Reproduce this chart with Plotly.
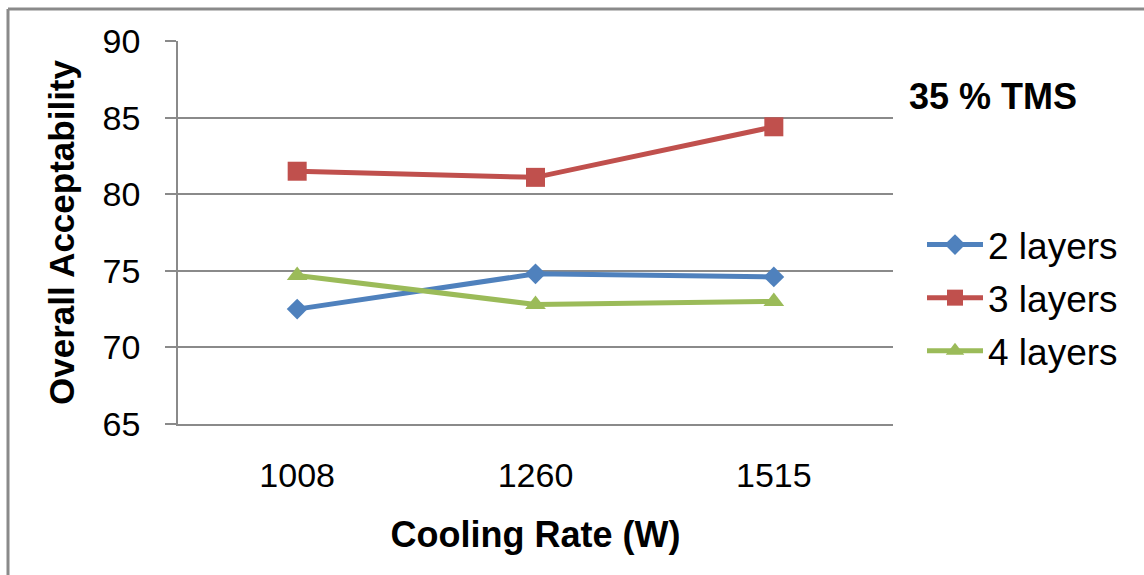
import plotly.graph_objects as go

categories = ["1008", "1260", "1515"]
layers2 = [72.5, 74.8, 74.6]
layers3 = [81.5, 81.1, 84.4]
layers4 = [74.7, 72.8, 73.0]
series_names = ["2 layers", "3 layers", "4 layers"]
y_ticks = [65, 70, 75, 80, 85, 90]

FONT = "Liberation Sans, Arial, sans-serif"
colors = ["#4F81BD", "#C0504D", "#9BBB59"]
symbols = ["diamond", "square", "triangle-up"]
sizes = [16, 19, 18]

fig = go.Figure()
for name, vals, c, s, sz in zip(series_names, [layers2, layers3, layers4], colors, symbols, sizes):
    fig.add_trace(go.Scatter(
        x=categories, y=vals, name=name, mode="lines+markers",
        line=dict(color=c, width=5),
        marker=dict(symbol=s, size=sz, color=c),
        legendgroup=name,
    ))

L, R, T, B = 178, 893, 41, 424
W, H = 1144, 575

def px(x):
    return (x - L) / (R - L)

def py(y):
    return (B - y) / (B - T)

fig.update_layout(
    width=W, height=H,
    margin=dict(l=L, r=W - R, t=T, b=H - B, pad=0),
    paper_bgcolor="white", plot_bgcolor="white",
    font=dict(family=FONT, color="#000000", size=34),
    showlegend=True,
    legend=dict(
        x=px(922), y=py(214), xanchor="left", yanchor="top",
        font=dict(family=FONT, size=37, color="#000000"),
        bgcolor="rgba(0,0,0,0)", tracegroupgap=2,
        itemwidth=56,
    ),
    xaxis=dict(
        type="category", categoryorder="array", categoryarray=categories,
        range=[-0.5, 2.5], showgrid=False, showline=True,
        linecolor="#8a8a8a", linewidth=1.5, ticks="",
        tickfont=dict(family=FONT, size=34, color="#000000"),
        ticklabelstandoff=20,
        title=dict(text="<b>Cooling Rate (W)</b>", font=dict(family=FONT, size=36, color="#000000"), standoff=29),
        zeroline=False,
    ),
    yaxis=dict(
        range=[65, 90], tickvals=y_ticks, ticktext=[str(v) for v in y_ticks],
        showgrid=True, gridcolor="#8a8a8a", gridwidth=1.5,
        showline=True, linecolor="#8a8a8a", linewidth=1.5,
        ticks="outside", ticklen=11, tickcolor="#8a8a8a", tickwidth=1.5,
        tickfont=dict(family=FONT, size=34, color="#000000"),
        ticklabelstandoff=18,
        title=dict(text="<b>Overall Acceptability</b>", font=dict(family=FONT, size=35, color="#000000"), standoff=17),
        zeroline=False,
    ),
    annotations=[dict(
        text="<b>35 % TMS</b>", xref="paper", yref="paper",
        x=px(993), y=py(96), xanchor="center", yanchor="middle",
        showarrow=False, font=dict(family=FONT, size=36, color="#000000"),
    )],
    shapes=[
        dict(type="line", xref="paper", yref="paper", x0=px(8), x1=px(8), y0=py(600), y1=py(9),
             line=dict(color="#8a8a8a", width=3), layer="below"),
        dict(type="line", xref="paper", yref="paper", x0=px(8), x1=px(1160), y0=py(9), y1=py(9),
             line=dict(color="#8a8a8a", width=3), layer="below"),
    ],
)

fig.write_html("out.html")
